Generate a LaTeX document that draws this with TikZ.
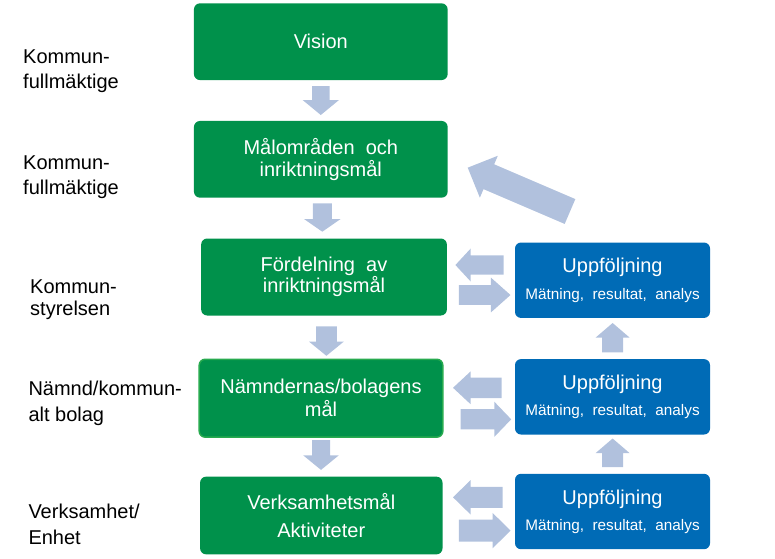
\documentclass[tikz,border=0pt]{standalone}
\usepackage{fontspec}
\setmainfont{Liberation Sans}
\definecolor{gbox}{HTML}{00914B}
\definecolor{bbox}{HTML}{006BB6}
\definecolor{arrc}{HTML}{B1C1DD}
\definecolor{gedge}{HTML}{27AA4F}
\tikzset{
  gnode/.style={fill=gbox, rounded corners=6pt, text=white, align=center,
    font=\fontsize{20}{21.5}\selectfont, inner sep=0pt},
  bnode/.style={fill=bbox, rounded corners=6pt, text=white, align=center,
    font=\fontsize{20}{26.3}\selectfont, minimum width=195pt, minimum height=75.4pt, inner sep=0pt},
  lbl/.style={anchor=base west, align=left, font=\fontsize{20}{25}\selectfont, inner sep=0pt}
}
% #1,#2 tail centre; #3 direction; #4 length; #5 shaft half width; #6 head half width; #7 head length
\newcommand\blockarr[7]{\fill[arrc, shift={(#1,#2)}, rotate=#3]
  (0,-#5) -- (#4-#7,-#5) -- (#4-#7,-#6) -- (#4,0) -- (#4-#7,#6) -- (#4-#7,#5) -- (0,#5) -- cycle;}
\newcommand\subline[1]{{\fontsize{15.3}{26.3}\selectfont #1}}
\begin{document}
\begin{tikzpicture}[x=1pt,y=-1pt]
\useasboundingbox (0,0) rectangle (775,558);

% green boxes
\node[gnode, minimum width=253.7pt, minimum height=76.7pt] (g1) at (320.8,41.7) {Vision};
\node[gnode, minimum width=253.7pt, minimum height=76.7pt] (g2) at (320.8,159.3) {Målområden\ \ och\\inriktningsmål};
\node[gnode, minimum width=245.7pt, minimum height=77pt] (g3) at (324,277) {Fördelning\ \ av\\inriktningsmål};
\node[gnode, draw=gedge, line width=1.5pt, minimum width=243.6pt, minimum height=77.9pt] (g4) at (321,398.2) {Nämndernas/bolagens\\[1.5pt]mål};
\node[gnode, minimum width=242.4pt, minimum height=77.7pt] (g5) at (321.3,515.5) {Verksamhetsmål\\[7pt]Aktiviteter};

% blue boxes
\node[bnode] (b1) at (612.5,280.2) {Uppföljning\\\subline{Mätning,\ \ resultat,\ \ analys}};
\node[bnode] (b2) at (612.5,396.8) {Uppföljning\\\subline{Mätning,\ \ resultat,\ \ analys}};
\node[bnode] (b3) at (612.5,511.5) {Uppföljning\\\subline{Mätning,\ \ resultat,\ \ analys}};

% left labels (anchored at baseline of last line)
\node[lbl] (l1) at (23,88.3) {Kommun-\\fullmäktige};
\node[lbl] (l2) at (23,194) {Kommun-\\fullmäktige};
\node[lbl, font=\fontsize{20}{22}\selectfont] (l3) at (30,315) {Kommun-\\styrelsen};
\node[lbl, font=\fontsize{20}{26.5}\selectfont] (l4) at (28.3,421.7) {Nämnd/kommun-\\alt bolag};
\node[lbl, font=\fontsize{20}{26}\selectfont] (l5) at (28.3,544.3) {Verksamhet/\\Enhet};

% down arrows
\blockarr{320.8}{86}{-90}{29}{8.8}{18.2}{15}
\blockarr{322.3}{203.3}{-90}{28.4}{9.5}{18.3}{12.7}
\blockarr{326.4}{326.3}{-90}{29.5}{10.4}{17.4}{14.2}
\blockarr{321}{440.1}{-90}{29.8}{9}{17.7}{14.5}
% up arrows
\blockarr{612.6}{352.4}{90}{29.4}{10.5}{16.9}{14.5}
\blockarr{612.6}{467.2}{90}{28.7}{10.5}{16.9}{14.5}
% left arrows
\blockarr{503.7}{265}{180}{48.3}{9.6}{16.4}{15.2}
\blockarr{501.7}{387.8}{180}{48.7}{10.2}{16.4}{17.6}
\blockarr{502.7}{497.3}{180}{49.7}{10.5}{17.2}{17.6}
% right arrows
\blockarr{458.8}{295}{0}{51.7}{9.9}{17.4}{19.6}
\blockarr{460.5}{419.3}{0}{50.7}{10.1}{17.6}{16.9}
\blockarr{458.8}{530.6}{0}{51.7}{11}{17.7}{17.9}
% big feedback arrow
\blockarr{570}{211.5}{156.8}{111.3}{13.5}{22.8}{23}
\end{tikzpicture}
\end{document}
